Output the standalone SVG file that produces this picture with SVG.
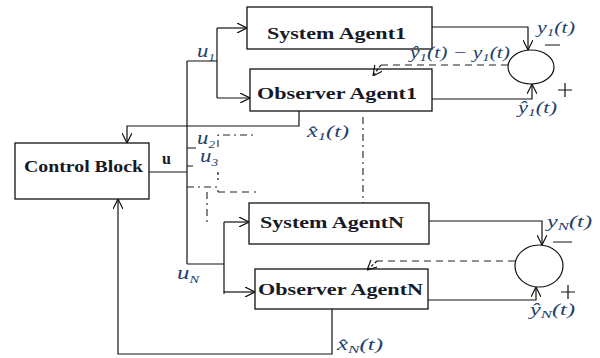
<svg xmlns="http://www.w3.org/2000/svg" width="600" height="358" viewBox="0 0 600 358">
<style>
.box{fill:#fff;stroke:#111;stroke-width:1.3}
.ln{fill:none;stroke:#111;stroke-width:1.2}
.da{fill:none;stroke:#222;stroke-width:1.1;stroke-dasharray:7,5}
.dd{fill:none;stroke:#222;stroke-width:1.1;stroke-dasharray:7,4,2,4}
.bl{font-family:"Liberation Serif","DejaVu Serif",serif;font-weight:bold;font-size:16px;fill:#161a26}
.m{font-family:"Liberation Serif","DejaVu Serif",serif;font-style:italic;font-size:16px;fill:#22406a}
.u{font-family:"Liberation Serif","DejaVu Serif",serif;font-style:italic;font-size:19px;fill:#22406a}
.s{font-size:11px}
</style>
<defs>
<marker id="a" viewBox="0 0 10 10" refX="10" refY="5" markerWidth="10" markerHeight="10" markerUnits="userSpaceOnUse" orient="auto">
<path d="M0,0 L10,5 L0,10" fill="none" stroke="#111" stroke-width="1.2"/>
</marker>
</defs>
<g id="sys1"><rect class="box" x="247" y="7" width="185" height="42"/><text class="bl" x="267" y="39" textLength="139" lengthAdjust="spacingAndGlyphs">System Agent1</text></g>
<g id="obs1"><rect class="box" x="250" y="69" width="182" height="42"/><text class="bl" x="257" y="99" textLength="160" lengthAdjust="spacingAndGlyphs">Observer Agent1</text></g>
<g id="ctrl"><rect class="box" x="15" y="143" width="134" height="56"/><text class="bl" x="24" y="172" textLength="119" lengthAdjust="spacingAndGlyphs">Control Block</text></g>
<g id="sysN"><rect class="box" x="249" y="203" width="180" height="41"/><text class="bl" x="260" y="228" textLength="144" lengthAdjust="spacingAndGlyphs">System AgentN</text></g>
<g id="obsN"><rect class="box" x="255" y="269" width="173" height="40"/><text class="bl" x="258" y="295" textLength="165" lengthAdjust="spacingAndGlyphs">Observer AgentN</text></g>
<g id="sum1"><ellipse cx="531" cy="67" rx="23" ry="17" fill="none" stroke="#111" stroke-width="1.2"/></g>
<g id="sumN"><ellipse cx="539" cy="266" rx="24" ry="21" fill="none" stroke="#111" stroke-width="1.2"/></g>
<g id="connectors">
<path class="ln" d="M149,172 H187 M187,61 V264 M187,61 H217 M217,28 V98"/>
<path class="ln" d="M217,28 H247" marker-end="url(#a)"/>
<path class="ln" d="M217,98 H250" marker-end="url(#a)"/>
<path class="ln" d="M187,264 H224 M224,222 V294"/>
<path class="ln" d="M224,222 H249" marker-end="url(#a)"/>
<path class="ln" d="M224,292 H255" marker-end="url(#a)"/>
<path class="ln" d="M432,27 H528 V50" marker-end="url(#a)"/>
<path class="ln" d="M432,99 H532 V84" marker-end="url(#a)"/>
<path class="da" d="M508,65 H381"/>
<path class="ln" d="M381,65 L373,76" marker-end="url(#a)" stroke-dasharray="3,2"/>
<path class="ln" d="M299,111 V126 H127 V143" marker-end="url(#a)"/>
<path class="dd" d="M363,117 V203"/>
<path class="ln" d="M429,221 H542 V245" marker-end="url(#a)"/>
<path class="ln" d="M428,300 H536 V287" marker-end="url(#a)"/>
<path class="da" d="M515,261 H377"/>
<path class="ln" d="M377,261 L367,270" marker-end="url(#a)" stroke-dasharray="3,2"/>
<path class="ln" d="M332,309 V354 H118 V199" marker-end="url(#a)"/>
<path class="ln" d="M187,148 H196 M187,166 H193"/>
<path class="dd" d="M218,147 V135 H256"/>
<path class="dd" d="M187,187 H218 V192"/>
<path class="da" d="M218,192 H256"/>
<path class="ln" d="M218,172 V180" stroke-dasharray="3,3"/>
<path class="dd" d="M207,192 V222"/>
</g>
<g id="labels">
<text class="bl" x="162" y="164" font-size="19">u</text>
<text class="u" x="197" y="57" textLength="18" lengthAdjust="spacingAndGlyphs">u<tspan class="s" dy="4">1</tspan></text>
<text class="u" x="197" y="144" textLength="18" lengthAdjust="spacingAndGlyphs">u<tspan class="s" dy="4">2</tspan></text>
<text class="u" x="200" y="162" textLength="18" lengthAdjust="spacingAndGlyphs">u<tspan class="s" dy="4">3</tspan></text>
<text class="u" x="177" y="279" textLength="22" lengthAdjust="spacingAndGlyphs">u<tspan class="s" dy="4">N</tspan></text>
<text class="m" x="537" y="33" textLength="38" lengthAdjust="spacingAndGlyphs">y<tspan class="s" dy="3">1</tspan><tspan dy="-3">(t)</tspan></text>
<text class="m" x="410" y="58" textLength="100" lengthAdjust="spacingAndGlyphs">ŷ<tspan class="s" dy="3">1</tspan><tspan dy="-3">(t) − y</tspan><tspan class="s" dy="3">1</tspan><tspan dy="-3">(t)</tspan></text>
<text class="m" x="518" y="113" textLength="39" lengthAdjust="spacingAndGlyphs">ŷ<tspan class="s" dy="3">1</tspan><tspan dy="-3">(t)</tspan></text>
<text class="m" x="307" y="137" textLength="42" lengthAdjust="spacingAndGlyphs">x̂<tspan class="s" dy="3">1</tspan><tspan dy="-3">(t)</tspan></text>
<text class="m" x="547" y="227" textLength="45" lengthAdjust="spacingAndGlyphs">y<tspan class="s" dy="3">N</tspan><tspan dy="-3">(t)</tspan></text>
<text class="m" x="530" y="315" textLength="45" lengthAdjust="spacingAndGlyphs">ŷ<tspan class="s" dy="3">N</tspan><tspan dy="-3">(t)</tspan></text>
<text class="m" x="337" y="350" textLength="46" lengthAdjust="spacingAndGlyphs">x̂<tspan class="s" dy="3">N</tspan><tspan dy="-3">(t)</tspan></text>
<path class="ln" d="M545,45 H560 M553,242 H572 M558,90 H572 M565,83 V97 M561,292 H575 M568,285 V299"/>
</g>
</svg>
